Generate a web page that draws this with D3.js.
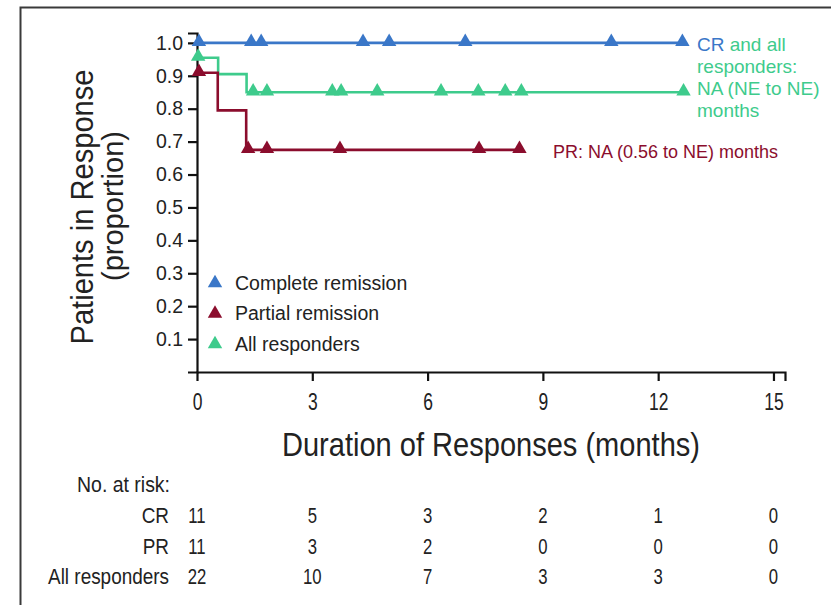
<!DOCTYPE html>
<html>
<head>
<meta charset="utf-8">
<script src="https://cdn.jsdelivr.net/npm/d3@7"></script>
<style>
  body { margin: 0; background: #fff; }
  svg { display: block; }
  .cond { font-family: "Liberation Sans Narrow", "Arial Narrow", "Liberation Sans", Arial, sans-serif; }
  .reg { font-family: "Liberation Sans", Arial, Helvetica, sans-serif; }
</style>
</head>
<body>
<div id="graph"></div>
<script>
//----------------------------------------------------------
// data

// step breakpoints: [months, proportion]
var g_cr_steps = [[0, 1.0], [12.63, 1.0]];
var g_pr_steps = [[0, 0.909], [0.54, 0.795], [1.28, 0.675], [8.39, 0.675]];
var g_all_steps = [[0, 0.955], [0.55, 0.905], [1.29, 0.85], [12.66, 0.85]];

// censor marks (months)
var g_cr_censor = [0.05, 1.41, 1.67, 4.32, 5.0, 6.98, 10.78, 12.63];
var g_pr_censor = [0.05, 1.33, 1.82, 3.72, 7.34, 8.39];
var g_all_censor = [0.03, 1.46, 1.82, 3.52, 3.75, 4.69, 6.35, 7.32, 8.02, 8.44, 12.66];

// axis ticks
var g_x_ticks = [0, 3, 6, 9, 12, 15];
var g_y_ticks = [0.1, 0.2, 0.3, 0.4, 0.5, 0.6, 0.7, 0.8, 0.9, 1.0];

// number at risk
var g_risk_labels = ["CR", "PR", "All responders"];
var g_risk_cr = [11, 5, 3, 2, 1, 0];
var g_risk_pr = [11, 3, 2, 0, 0, 0];
var g_risk_all = [22, 10, 7, 3, 3, 0];

var g_legend = ["Complete remission", "Partial remission", "All responders"];

var COL_CR = "#3a77c8", COL_PR = "#8b0d2d", COL_ALL = "#3ecb8c";

//----------------------------------------------------------
var g_svg = d3.select("#graph")
  .append("svg")
    .attr("width", 831)
    .attr("height", 605);

// outer frame (top + left only)
g_svg.append("path")
    .attr("d", "M20.5,605 L20.5,7.5 L831,7.5")
    .attr("fill", "none")
    .attr("stroke", "#3a3a3a")
    .attr("stroke-width", 2);

var x = d3.scaleLinear().domain([0, 15.3]).range([197, 785]);
var y = d3.scaleLinear().domain([0, 1.03]).range([372, 33]);

// condensed look: squeeze glyphs into a measured width
function Squeeze(sel, ratio) {
    sel.each(function () {
        var w = this.getComputedTextLength();
        d3.select(this)
            .attr("textLength", w * ratio)
            .attr("lengthAdjust", "spacingAndGlyphs");
    });
}

// axes
var g_yaxis = g_svg.append("g")
    .attr("transform", "translate(197,0)")
    .call(d3.axisLeft(y).tickValues(g_y_ticks).tickFormat(d3.format(".1f")).tickSizeOuter(0).tickSize(9).tickPadding(5));
g_yaxis.selectAll("text")
    .attr("class", "reg")
    .attr("font-size", 19.5)
    .attr("fill", "#222");

var g_xaxis = g_svg.append("g")
    .attr("transform", "translate(0,372)")
    .call(d3.axisBottom(x).tickValues(g_x_ticks).tickFormat(d3.format("d")).tickSizeOuter(0).tickSize(9).tickPadding(13));
g_xaxis.selectAll("text")
    .attr("class", "cond")
    .attr("font-size", 23)
    .attr("fill", "#222")
    .call(Squeeze, 0.76);
g_xaxis.selectAll(".tick").filter(function (d) { return d === 0; }).select("line").remove();

g_svg.selectAll(".domain, .tick line")
    .attr("stroke", "#111")
    .attr("stroke-width", 2.2);

// titles
g_svg.append("text")
    .attr("class", "cond")
    .attr("x", 491).attr("y", 456)
    .attr("text-anchor", "middle")
    .attr("font-size", 33)
    .attr("fill", "#222")
    .attr("textLength", 418)
    .attr("lengthAdjust", "spacingAndGlyphs")
    .text("Duration of Responses (months)");

var g_ytitle = g_svg.append("g")
    .attr("transform", "translate(93,207) rotate(-90)");
g_ytitle.append("text")
    .attr("class", "cond")
    .attr("x", -137.5)
    .attr("font-size", 32)
    .attr("fill", "#222")
    .attr("textLength", 275)
    .attr("lengthAdjust", "spacingAndGlyphs")
    .text("Patients in Response");
g_ytitle.append("text")
    .attr("class", "cond")
    .attr("x", -74)
    .attr("y", 30)
    .attr("font-size", 29)
    .attr("fill", "#222")
    .attr("textLength", 150)
    .attr("lengthAdjust", "spacingAndGlyphs")
    .text("(proportion)");

//----------------------------------------------------------
// curves
var stepLine = d3.line()
    .x(function (d) { return x(d[0]); })
    .y(function (d) { return y(d[1]); })
    .curve(d3.curveStepAfter);

function LevelAt(steps, t) {
    var v = steps[0][1];
    steps.forEach(function (s) { if (s[0] <= t) v = s[1]; });
    return v;
}

var tri = d3.symbol().type(d3.symbolTriangle).size(90);

function DrawCurve(steps, censor, colour) {
    g_svg.append("path")
        .attr("d", stepLine(steps))
        .attr("fill", "none")
        .attr("stroke", colour)
        .attr("stroke-width", 2.6);

    g_svg.append("g")
      .selectAll("path")
      .data(censor)
      .join("path")
        .attr("d", tri)
        .attr("fill", colour)
        .attr("transform", function (t) {
            return "translate(" + x(t) + "," + (y(LevelAt(steps, t)) - 1) + ")";
        });
}

DrawCurve(g_all_steps, g_all_censor, COL_ALL);
DrawCurve(g_pr_steps, g_pr_censor, COL_PR);
DrawCurve(g_cr_steps, g_cr_censor, COL_CR);

// end annotations
var g_note = g_svg.append("text")
    .attr("class", "reg")
    .attr("font-size", 19)
    .attr("fill", COL_ALL);
g_note.append("tspan").attr("x", 697).attr("y", 51).attr("fill", COL_CR).text("CR");
g_note.append("tspan").text(" and all");
g_note.append("tspan").attr("x", 697).attr("y", 73).text("responders:");
g_note.append("tspan").attr("x", 697).attr("y", 95).text("NA (NE to NE)");
g_note.append("tspan").attr("x", 697).attr("y", 117).text("months");

g_svg.append("text")
    .attr("class", "reg")
    .attr("x", 553).attr("y", 158)
    .attr("font-size", 18)
    .attr("fill", COL_PR)
    .text("PR: NA (0.56 to NE) months");

// legend
var g_leg = g_svg.append("g")
  .selectAll("g")
  .data(g_legend)
  .join("g")
    .attr("transform", function (d, i) { return "translate(215," + (283 + i * 30.5) + ")"; });
g_leg.append("path")
    .attr("d", tri)
    .attr("fill", function (d, i) { return [COL_CR, COL_PR, COL_ALL][i]; });
g_leg.append("text")
    .attr("class", "reg")
    .attr("x", 20).attr("y", 6.5)
    .attr("font-size", 19.5)
    .attr("fill", "#222")
    .text(function (d) { return d; });

//----------------------------------------------------------
// number at risk table
g_svg.append("text")
    .attr("class", "cond")
    .attr("x", 170).attr("y", 492)
    .attr("text-anchor", "end")
    .attr("font-size", 22)
    .attr("fill", "#222")
    .attr("textLength", 93)
    .attr("lengthAdjust", "spacingAndGlyphs")
    .text("No. at risk:");

var g_rows = [g_risk_cr, g_risk_pr, g_risk_all];
g_rows.forEach(function (row, r) {
    var yy = 523 + r * 30.5;
    g_svg.append("text")
        .attr("class", "cond")
        .attr("x", 169).attr("y", yy)
        .attr("text-anchor", "end")
        .attr("font-size", 22)
        .attr("fill", "#222")
        .text(g_risk_labels[r])
        .call(Squeeze, 0.86);
    g_svg.append("g")
      .selectAll("text")
      .data(row)
      .join("text")
        .attr("class", "cond")
        .attr("x", function (d, i) { return x(g_x_ticks[i]); })
        .attr("y", yy)
        .attr("text-anchor", "middle")
        .attr("font-size", 22)
        .attr("fill", "#222")
        .text(function (d) { return d; })
        .call(Squeeze, 0.76);
});
</script>
</body>
</html>
